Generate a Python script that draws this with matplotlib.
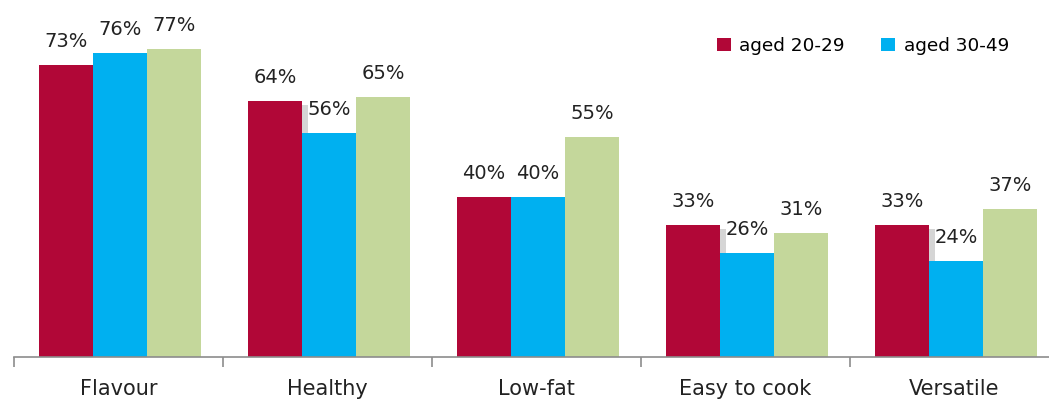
import matplotlib
matplotlib.use("Agg")
import matplotlib.pyplot as plt
import matplotlib.patheffects as pe
from matplotlib.patches import Patch
import numpy as np

categories = ["Flavour", "Healthy", "Low-fat", "Easy to cook", "Versatile"]
aged_20_29 = [73, 64, 40, 33, 33]
aged_30_49 = [76, 56, 40, 26, 24]
aged_50_plus = [77, 65, 55, 31, 37]
series_names = ["aged 20-29", "aged 30-49", None]
colors = ["#B10737", "#00B0F0", "#C4D79B"]

fig = plt.figure(figsize=(10.49, 4.07), dpi=100)
ax = fig.add_axes([14/1049, 50/407, 1045/1049, 357/407])

x = np.arange(len(categories))
w = 0.258
series = [aged_20_29, aged_30_49, aged_50_plus]
for i, (vals, c, name) in enumerate(zip(series, colors, series_names)):
    bars = ax.bar(x + (i - 1) * w + 0.007, vals, width=w, color=c, zorder=2)
    if i == 0:
        for b in bars:
            b.set_path_effects([pe.SimplePatchShadow(offset=(4, -3), alpha=0.22,
                                                     shadow_rgbFace="#444444"), pe.Normal()])
    for xi, v in zip(x, vals):
        ax.text(xi + (i - 1) * w + 0.007, v + 3.4, f"{v}%", ha="center", va="bottom",
                fontsize=14, color="#222222", zorder=5)

ax.set_xlim(-0.5, 4.5)
ax.set_ylim(0, 89.25)
ax.set_yticks([])
for s in ["top", "right", "left"]:
    ax.spines[s].set_visible(False)
ax.spines["bottom"].set_color("#8C8C8C")
ax.spines["bottom"].set_linewidth(1.2)
ax.set_xticks(x)
ax.set_xticklabels(categories, fontsize=15, color="#222222")
ax.tick_params(axis="x", which="major", length=0, pad=16)
ax.set_xticks(np.arange(-0.5, 5.0, 1.0), minor=True)
ax.tick_params(axis="x", which="minor", length=7, color="#8C8C8C", width=1.2, direction="out")

handles = [Patch(facecolor=colors[0], label=series_names[0]),
           Patch(facecolor=colors[1], label=series_names[1])]
leg = ax.legend(handles=handles, loc="upper left", bbox_to_anchor=(0.6725, 0.897),
                ncol=2, frameon=False, fontsize=13.3, handlelength=0.75, handleheight=0.75,
                handletextpad=0.45, columnspacing=2.0, borderaxespad=0, borderpad=0)

fig.savefig("out.png", dpi=100)
